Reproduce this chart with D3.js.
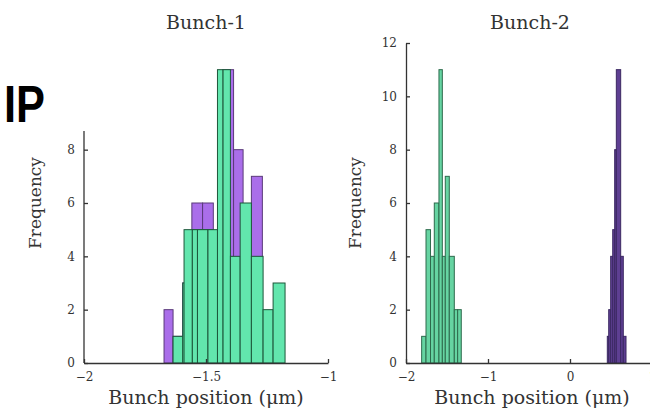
<!DOCTYPE html>
<html>
<head>
<meta charset="utf-8">
<script src="https://cdn.jsdelivr.net/npm/d3@7"></script>
<style>
  body { margin: 0; background: #fff; }
  text { font-family: "DejaVu Serif", serif; fill: #333; }
</style>
</head>
<body>
<script>

// data (bin edges in um, counts per bin)

const leftPurpleEdges = [-1.672, -1.635, -1.596, -1.558, -1.514, -1.470, -1.431, -1.387, -1.348, -1.314, -1.269];
const leftPurpleCounts = [2, 1, 3, 6, 6, 4, 11, 8, 4, 7];

const leftGreenEdges = [-1.635, -1.595, -1.556, -1.514, -1.470, -1.431, -1.400, -1.360, -1.314, -1.266, -1.225, -1.176];
const leftGreenCounts = [1, 3, 5, 5, 4, 11, 4, 6, 4, 2, 3];

const leftGreen2Edges = [-1.590, -1.556, -1.535, -1.492, -1.453, -1.431];
const leftGreen2Counts = [5, 5, 5, 5, 11];

const rightGreenEdges = [-1.809, -1.756, -1.701, -1.655, -1.598, -1.557, -1.521, -1.472, -1.411, -1.370, -1.326];
const rightGreenCounts = [1, 5, 4, 6, 11, 4, 7, 4, 2, 2];

const rightPurpleEdges = [0.455, 0.472, 0.496, 0.521, 0.545, 0.565, 0.618, 0.650, 0.683];
const rightPurpleCounts = [1, 2, 4, 5, 8, 11, 4, 1];

const leftXTicks = [-2, -1.5, -1];
const leftYTicks = [0, 2, 4, 6, 8];
const rightXTicks = [-2, -1, 0, 1];
const rightYTicks = [0, 2, 4, 6, 8, 10, 12];

const titles = ["Bunch-1", "Bunch-2"];

// layout

const w = 650;
const h = 414;

const svg = d3.select("body")
  .append("svg")
    .attr("width", w)
    .attr("height", h);

const yScale = d3.scaleLinear()
    .domain([0, 12])
    .range([363, 43]);

const xLeft = d3.scaleLinear()
    .domain([-2, -1])
    .range([84, 328]);

const xRight = d3.scaleLinear()
    .domain([-2, 1])
    .range([406, 652]);

const fmt = d => String(d).replace("-", "\u2212");

function toBins(edges, counts) {
  return counts.map((c, i) => ({x0: edges[i], x1: edges[i + 1], n: c}));
}

function drawBars(xs, edges, counts, fill, stroke, opacity) {
  svg.append("g")
    .selectAll("rect")
    .data(toBins(edges, counts))
    .enter().append("rect")
      .attr("x", d => xs(d.x0))
      .attr("y", d => yScale(d.n))
      .attr("width", d => xs(d.x1) - xs(d.x0))
      .attr("height", d => yScale(0) - yScale(d.n))
      .attr("fill", fill)
      .attr("fill-opacity", opacity)
      .attr("stroke", stroke)
      .attr("stroke-width", 1);
}

// left panel bars
drawBars(xLeft, leftPurpleEdges, leftPurpleCounts, "#aa6eea", "#5a3a7a", 1);
drawBars(xLeft, leftGreenEdges, leftGreenCounts, "#62e6ad", "#1d563a", 1);
drawBars(xLeft, leftGreen2Edges, leftGreen2Counts, "#62e6ad", "#1d563a", 1);

// right panel bars
drawBars(xRight, rightGreenEdges, rightGreenCounts, "#66d4a2", "#2d6a4c", 1);
drawBars(xRight, rightPurpleEdges, rightPurpleCounts, "#5e3f92", "#3b2862", 1);

// axes

function styleAxis(g) {
  g.selectAll("path, line").attr("stroke", "#333").attr("stroke-width", 1.3);
  g.selectAll("text")
    .style("font-family", "DejaVu Serif, serif")
    .style("font-size", "12px")
    .attr("fill", "#444");
}

const xAxisL = svg.append("g")
    .attr("transform", `translate(0, ${yScale(0)})`)
    .call(d3.axisBottom(xLeft).tickValues(leftXTicks).tickFormat(fmt)
      .tickSizeInner(-4).tickSizeOuter(0).tickPadding(9));
styleAxis(xAxisL);

const yAxisL = svg.append("g")
    .attr("transform", `translate(${xLeft.range()[0]}, 0)`)
    .call(d3.axisLeft(yScale).tickValues(leftYTicks).tickFormat(fmt)
      .tickSizeInner(-4).tickSizeOuter(0).tickPadding(9));
yAxisL.select(".domain").attr("d", `M0,${yScale(0)}V${yScale(8.7)}`);
styleAxis(yAxisL);

const xAxisR = svg.append("g")
    .attr("transform", `translate(0, ${yScale(0)})`)
    .call(d3.axisBottom(xRight).tickValues(rightXTicks).tickFormat(fmt)
      .tickSizeInner(-4).tickSizeOuter(0).tickPadding(9));
styleAxis(xAxisR);

const yAxisR = svg.append("g")
    .attr("transform", `translate(${xRight.range()[0]}, 0)`)
    .call(d3.axisLeft(yScale).tickValues(rightYTicks).tickFormat(fmt)
      .tickSizeInner(-4).tickSizeOuter(0).tickPadding(9));
styleAxis(yAxisR);

// titles and labels

svg.append("text")
    .attr("x", 206).attr("y", 29)
    .attr("text-anchor", "middle")
    .style("font-size", "19px")
    .text(titles[0]);

svg.append("text")
    .attr("x", 530).attr("y", 29)
    .attr("text-anchor", "middle")
    .style("font-size", "19px")
    .text(titles[1]);

svg.append("text")
    .attr("x", 206).attr("y", 404)
    .attr("text-anchor", "middle")
    .style("font-size", "19px")
    .text("Bunch position (\u03bcm)");

svg.append("text")
    .attr("x", 532).attr("y", 404)
    .attr("text-anchor", "middle")
    .style("font-size", "19px")
    .text("Bunch position (\u03bcm)");

svg.append("text")
    .attr("transform", "translate(41, 203) rotate(-90)")
    .attr("text-anchor", "middle")
    .style("font-size", "17px")
    .text("Frequency");

svg.append("text")
    .attr("transform", "translate(361, 203) rotate(-90)")
    .attr("text-anchor", "middle")
    .style("font-size", "17px")
    .text("Frequency");

// panel label

svg.append("text")
    .attr("x", 4).attr("y", 122)
    .attr("textLength", 41)
    .attr("lengthAdjust", "spacingAndGlyphs")
    .style("font-family", "Liberation Sans, Arial, sans-serif")
    .style("font-weight", "bold")
    .style("font-size", "52px")
    .style("fill", "#000")
    .text("IP");

</script>
</body>
</html>
